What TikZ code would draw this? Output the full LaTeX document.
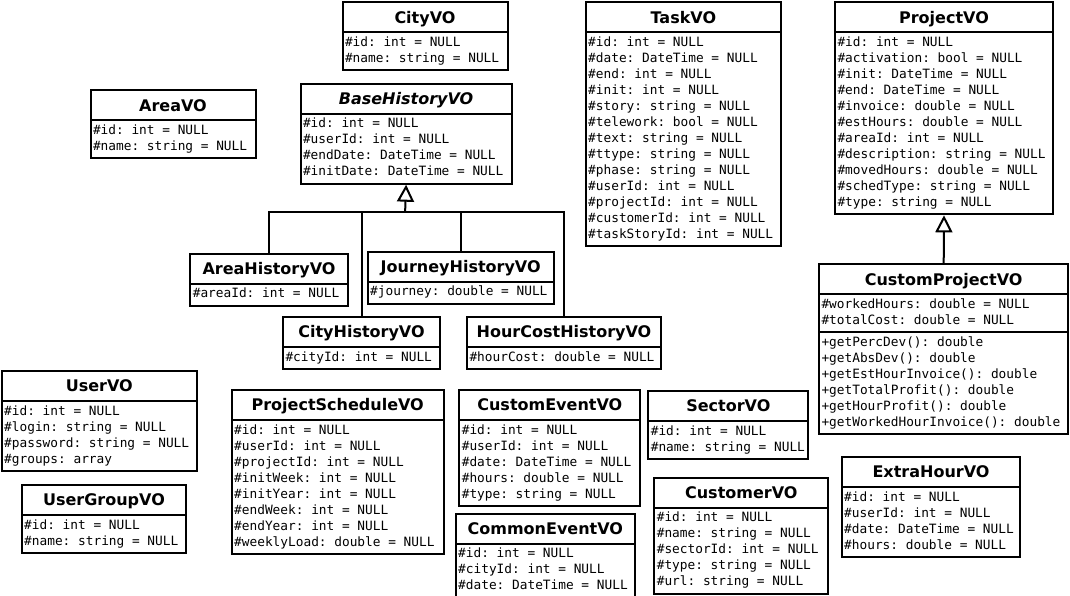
\documentclass[tikz,border=0pt]{standalone}
\usepackage{fontspec}
\setmainfont{DejaVu Sans}
\newfontfamily\attrfont{DejaVu Sans Mono}
\usetikzlibrary{shapes.multipart,arrows.meta}
\newcommand\classname[1]{\hbox to\linewidth{\hfil\normalfont\fontsize{16}{18}\selectfont\bfseries #1\rule[-6pt]{0pt}{23.5pt}\hfil}}
\newcommand\attrs[1]{\frenchspacing\spaceskip=7.707pt\relax\rule{0pt}{10.75pt}#1\rule[-4.75pt]{0pt}{0pt}}
\begin{document}
\begin{tikzpicture}[x=1pt,y=-1pt,
  umlclass/.style={draw,line width=2pt,rectangle split,rectangle split parts=2,anchor=north west,
    inner xsep=2.5pt,inner ysep=2.25pt,align=left,font=\attrfont\fontsize{12.8}{16}\selectfont},
  link/.style={line width=2pt},
  generalize/.style={link,-{Triangle[open,length=17pt,width=17pt]}}]
\useasboundingbox (0,0) rectangle (1070,596);
% top row
\node[umlclass,text width=160pt] (city) at (341.5,1.3) {\classname{CityVO}\nodepart{two}\attrs{\#id: int = NULL\\\#name: string = NULL}};
\node[umlclass,text width=160pt] (area) at (89.5,89.5) {\classname{AreaVO}\nodepart{two}\attrs{\#id: int = NULL\\\#name: string = NULL}};
\node[umlclass,text width=206.2pt] (basehist) at (299.5,82.7) {\classname{\itshape BaseHistoryVO}\nodepart{two}\attrs{\#id: int = NULL\\\#userId: int = NULL\\\#endDate: DateTime = NULL\\\#initDate: DateTime = NULL}};
\node[umlclass,text width=190.3pt] (task) at (584.7,1.3) {\classname{TaskVO}\nodepart{two}\attrs{\#id: int = NULL\\\#date: DateTime = NULL\\\#end: int = NULL\\\#init: int = NULL\\\#story: string = NULL\\\#telework: bool = NULL\\\#text: string = NULL\\\#ttype: string = NULL\\\#phase: string = NULL\\\#userId: int = NULL\\\#projectId: int = NULL\\\#customerId: int = NULL\\\#taskStoryId: int = NULL}};
\node[umlclass,text width=213pt] (project) at (834,1.3) {\classname{ProjectVO}\nodepart{two}\attrs{\#id: int = NULL\\\#activation: bool = NULL\\\#init: DateTime = NULL\\\#end: DateTime = NULL\\\#invoice: double = NULL\\\#estHours: double = NULL\\\#areaId: int = NULL\\\#description: string = NULL\\\#movedHours: double = NULL\\\#schedType: string = NULL\\\#type: string = NULL}};
% history classes
\node[umlclass,text width=152.4pt] (areahist) at (189.3,252.7) {\classname{AreaHistoryVO}\nodepart{two}\attrs{\#areaId: int = NULL}};
\node[umlclass,text width=181pt] (journeyhist) at (366.7,250.7) {\classname{JourneyHistoryVO}\nodepart{two}\attrs{\#journey: double = NULL}};
\node[umlclass,text width=152pt] (cityhist) at (282,316) {\classname{CityHistoryVO}\nodepart{two}\attrs{\#cityId: int = NULL}};
\node[umlclass,text width=189pt] (hourhist) at (466,316) {\classname{HourCostHistoryVO}\nodepart{two}\attrs{\#hourCost: double = NULL}};
\node[umlclass,rectangle split parts=3,text width=244.4pt] (customproject) at (818,263.3) {\classname{CustomProjectVO}\nodepart{two}\attrs{\#workedHours: double = NULL\\\#totalCost: double = NULL}\nodepart{three}\attrs{+getPercDev(): double\\+getAbsDev(): double\\+getEstHourInvoice(): double\\+getTotalProfit(): double\\+getHourProfit(): double\\+getWorkedHourInvoice(): double}};
% bottom row
\node[umlclass,text width=190.3pt] (user) at (0.7,370) {\classname{UserVO}\nodepart{two}\attrs{\#id: int = NULL\\\#login: string = NULL\\\#password: string = NULL\\\#groups: array}};
\node[umlclass,text width=159.6pt] (usergroup) at (20.7,484) {\classname{UserGroupVO}\nodepart{two}\attrs{\#id: int = NULL\\\#name: string = NULL}};
\node[umlclass,text width=207pt] (schedule) at (230.7,389) {\classname{ProjectScheduleVO}\nodepart{two}\attrs{\#id: int = NULL\\\#userId: int = NULL\\\#projectId: int = NULL\\\#initWeek: int = NULL\\\#initYear: int = NULL\\\#endWeek: int = NULL\\\#endYear: int = NULL\\\#weeklyLoad: double = NULL}};
\node[umlclass,text width=176pt] (customevent) at (458.3,389) {\classname{CustomEventVO}\nodepart{two}\attrs{\#id: int = NULL\\\#userId: int = NULL\\\#date: DateTime = NULL\\\#hours: double = NULL\\\#type: string = NULL}};
\node[umlclass,text width=174.3pt] (commonevent) at (454.7,512.7) {\classname{CommonEventVO}\nodepart{two}\attrs{\#id: int = NULL\\\#cityId: int = NULL\\\#date: DateTime = NULL}};
\node[umlclass,text width=155pt] (sector) at (647.3,390) {\classname{SectorVO}\nodepart{two}\attrs{\#id: int = NULL\\\#name: string = NULL}};
\node[umlclass,text width=169pt] (customer) at (653.3,476.7) {\classname{CustomerVO}\nodepart{two}\attrs{\#id: int = NULL\\\#name: string = NULL\\\#sectorId: int = NULL\\\#type: string = NULL\\\#url: string = NULL}};
\node[umlclass,text width=173.6pt] (extrahour) at (840.7,456) {\classname{ExtraHourVO}\nodepart{two}\attrs{\#id: int = NULL\\\#userId: int = NULL\\\#date: DateTime = NULL\\\#hours: double = NULL}};
% inheritance
\coordinate (bus) at (405.1,212.3);
\draw[generalize] (bus) -- (basehist.south);
\foreach \c in {areahist,cityhist,journeyhist,hourhist} % children of BaseHistoryVO
\draw[link] (\c.north) |- (bus);
\draw[generalize] (customproject.north) -- (project.south);
\end{tikzpicture}
\end{document}
